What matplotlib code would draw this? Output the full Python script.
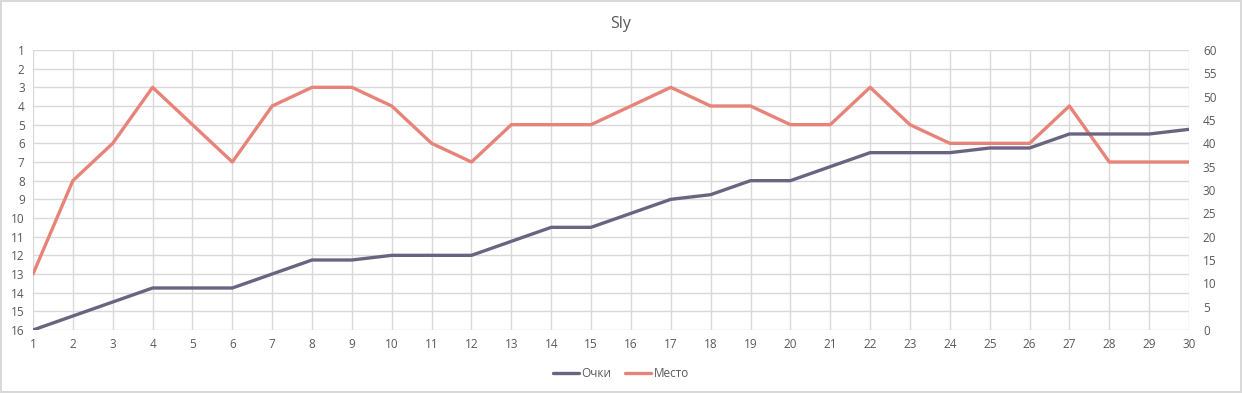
import matplotlib.pyplot as plt

rounds = list(range(1, 31))
points = [0, 3, 6, 9, 9, 9, 12, 15, 15, 16, 16, 16, 19, 22, 22,
          25, 28, 29, 32, 32, 35, 38, 38, 38, 39, 39, 42, 42, 42, 43]
places = [13, 8, 6, 3, 5, 7, 4, 3, 3, 4, 6, 7, 5, 5, 5,
          4, 3, 4, 4, 5, 5, 3, 5, 6, 6, 6, 4, 7, 7, 7]

plt.rcParams['font.family'] = ['Open Sans', 'DejaVu Sans']
text_col = '#595959'
grid_col = '#d9d9d9'

fig = plt.figure(figsize=(12.42, 3.93), dpi=100)
fig.patch.set_edgecolor(grid_col)
fig.patch.set_linewidth(1.5)

ax = fig.add_axes([33 / 1242, 1 - 330 / 393, (1189 - 33) / 1242, 280 / 393])
ax2 = ax.twinx()

# places on the left axis (inverted)
l_place, = ax.plot(rounds, places, color='#e8837a', lw=2.4, solid_capstyle='round', zorder=3)
ax.set_ylim(16, 1)
ax.set_yticks(range(1, 17))
ax.set_xlim(1, 30)
ax.set_xticks(rounds)
ax.grid(True, color=grid_col, lw=1)
ax.set_axisbelow(True)

# points on the right axis
l_pts, = ax2.plot(rounds, points, color='#6b6480', lw=2.4, solid_capstyle='round', zorder=3)
ax2.set_ylim(0, 60)
ax2.set_yticks(range(0, 61, 5))

for a in (ax, ax2):
    for s in a.spines.values():
        s.set_visible(False)
    a.tick_params(length=0, colors=text_col, labelsize=8.5)
ax.tick_params(axis='y', pad=6)
ax.tick_params(axis='x', pad=6)
ax2.tick_params(axis='y', pad=10)

fig.suptitle('Sly', x=0.5, y=0.96, fontsize=11.5, color=text_col)

fig.legend([l_pts, l_place], ['Очки', 'Место'], loc='center', bbox_to_anchor=(0.5, 0.05),
           ncol=2, frameon=False, fontsize=8.5, labelcolor=text_col,
           handlelength=2.2, handletextpad=0.2, columnspacing=1.2)

fig.savefig('out.png', dpi=100)
